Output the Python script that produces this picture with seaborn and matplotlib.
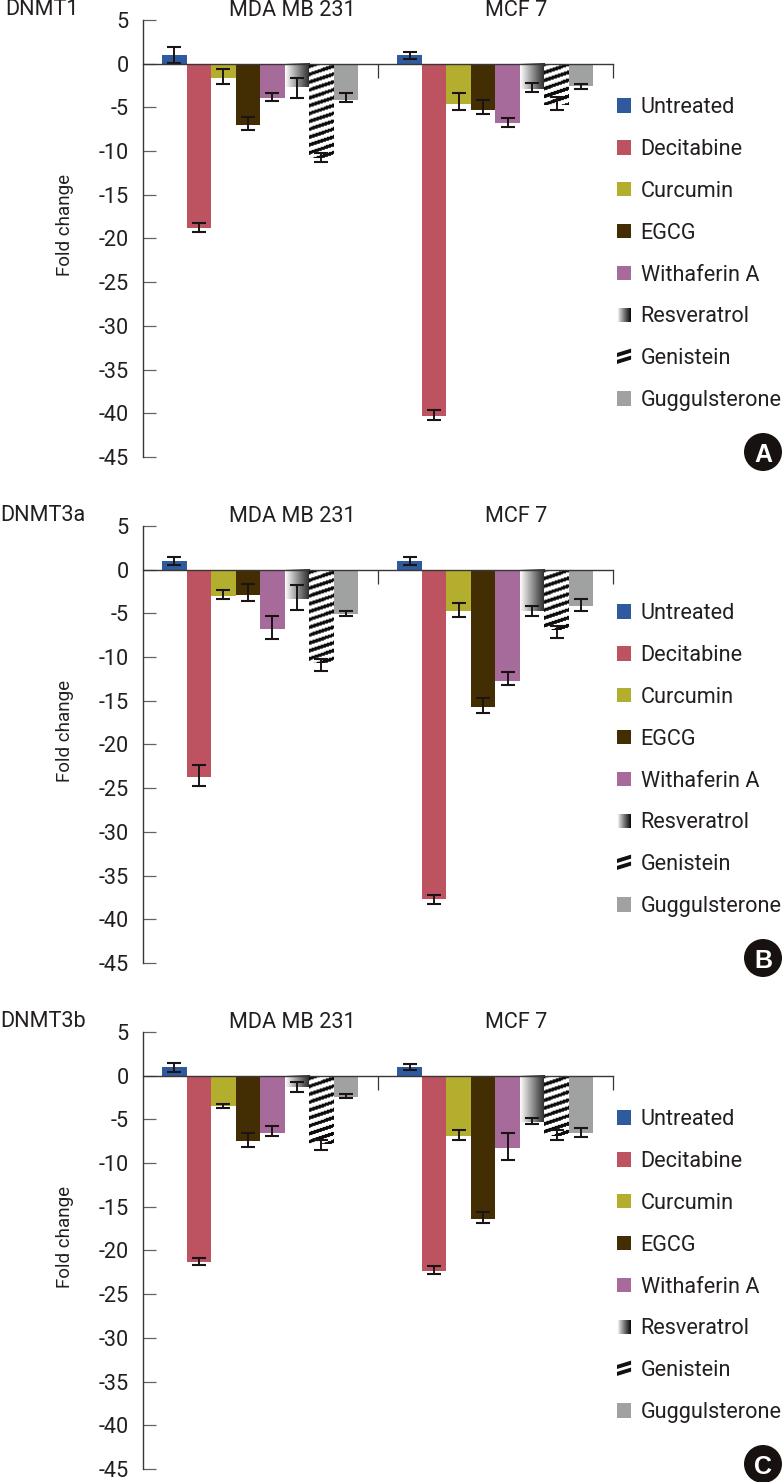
import numpy as np
import pandas as pd
import matplotlib
matplotlib.use("Agg")
import matplotlib.pyplot as plt
from matplotlib.patches import Rectangle, Polygon, Ellipse
from matplotlib.legend_handler import HandlerBase
import seaborn as sns

cells = ["MDA MB 231", "MCF 7"]
treatments = ["Untreated", "Decitabine", "Curcumin", "EGCG", "Withaferin A",
              "Resveratrol", "Genistein", "Guggulsterone"]
colors = ["#2f5a9e", "#bd5261", "#b3ae2e", "#432e04", "#a76b9b",
          "#ffffff", "#ffffff", "#a0a1a1"]
yticks = [5, 0, -5, -10, -15, -20, -25, -30, -35, -40, -45]
INK = "#231f20"

dnmt1_mda = [1.0, -18.8, -1.6, -7.0, -3.9, -2.7, -10.8, -4.1]
dnmt1_mda_top = [1.9, -18.2, -0.6, -6.1, -3.4, -1.6, -10.2, -3.3]
dnmt1_mda_low = [0.1, -19.3, -2.3, -7.6, -4.3, -3.9, -11.3, -4.4]
dnmt1_mcf = [1.0, -40.3, -4.6, -5.3, -6.8, -2.9, -4.7, -2.5]
dnmt1_mcf_top = [1.3, -39.6, -3.4, -4.2, -6.2, -2.2, -3.8, -2.3]
dnmt1_mcf_low = [0.5, -40.8, -5.3, -5.7, -7.2, -3.2, -5.3, -2.9]

dnmt3a_mda = [1.0, -23.7, -3.0, -2.9, -6.8, -3.4, -10.7, -5.1]
dnmt3a_mda_top = [1.4, -22.4, -2.3, -1.6, -5.3, -1.7, -10.2, -4.7]
dnmt3a_mda_low = [0.5, -24.7, -3.4, -3.6, -7.9, -4.6, -11.6, -5.3]
dnmt3a_mcf = [1.0, -37.7, -4.7, -15.7, -12.7, -4.7, -6.9, -4.1]
dnmt3a_mcf_top = [1.4, -37.2, -3.8, -14.7, -11.7, -4.1, -6.4, -3.4]
dnmt3a_mcf_low = [0.5, -38.2, -5.4, -16.4, -13.2, -5.3, -7.8, -4.7]

dnmt3b_mda = [1.0, -21.3, -3.5, -7.5, -6.5, -1.3, -7.8, -2.4]
dnmt3b_mda_top = [1.5, -20.9, -3.2, -6.5, -5.8, -0.7, -7.3, -2.1]
dnmt3b_mda_low = [0.4, -21.7, -3.7, -8.2, -6.9, -1.9, -8.5, -2.6]
dnmt3b_mcf = [1.0, -22.3, -6.9, -16.4, -8.3, -5.3, -6.9, -6.5]
dnmt3b_mcf_top = [1.3, -21.8, -6.2, -15.6, -6.5, -4.8, -6.2, -6.0]
dnmt3b_mcf_low = [0.6, -22.7, -7.4, -16.9, -9.6, -5.5, -7.4, -7.0]

panels = [
    ("DNMT1", "A", 20, 5, dnmt1_mda, dnmt1_mda_top, dnmt1_mda_low, dnmt1_mcf, dnmt1_mcf_top, dnmt1_mcf_low),
    ("DNMT3a", "B", 526, 0, dnmt3a_mda, dnmt3a_mda_top, dnmt3a_mda_low, dnmt3a_mcf, dnmt3a_mcf_top, dnmt3a_mcf_low),
    ("DNMT3b", "C", 1032, 0, dnmt3b_mda, dnmt3b_mda_top, dnmt3b_mda_low, dnmt3b_mcf, dnmt3b_mcf_top, dnmt3b_mcf_low),
]

sns.set_style("white")
plt.rcParams["font.family"] = ["Roboto", "Liberation Sans", "DejaVu Sans"]
plt.rcParams["axes.unicode_minus"] = False
plt.rcParams["text.color"] = INK

W, H = 782, 1482
FS = 15.6
fig = plt.figure(figsize=(W / 100, H / 100), dpi=100, facecolor="white")
AX_W, AX_H = 470.5, 437
LABEL_SHIFT = [32, 21]


class GradientHandler(HandlerBase):
    def create_artists(self, legend, orig, xd, yd, width, height, fontsize, trans):
        n = 14
        out = []
        for i in range(n):
            g = 1 - (i / (n - 1)) ** 0.9 * 0.95
            out.append(Rectangle((xd * -1 + i * width / n, -yd), width / n + 0.2, height,
                                 fc=str(g), ec="none", transform=trans))
        return out


class StripeHandler(HandlerBase):
    def create_artists(self, legend, orig, xd, yd, width, height, fontsize, trans):
        x0, y0 = -xd, -yd
        out = []
        for f in (0.0, 0.48):
            pts = [(x0, y0 + f * height), (x0 + width, y0 + (f + 0.3) * height),
                   (x0 + width, y0 + (f + 0.58) * height), (x0, y0 + (f + 0.28) * height)]
            out.append(Polygon(pts, closed=True, fc="#111111", ec="none", transform=trans))
        return out


def stripes():
    yy, xx = np.mgrid[0:int(AX_H), 0:int(AX_W)]
    phase = (yy + 0.34 * xx) % 7.8
    return np.where(phase < 3.6, 0.05, 1.0)


for name, letter, top, name_x, v1, t1, l1, v2, t2, l2 in panels:
    ax = fig.add_axes([142.5 / W, 1 - (top + AX_H) / H, AX_W / W, AX_H / H])
    df = pd.DataFrame({
        "cell": [cells[0]] * 8 + [cells[1]] * 8,
        "treatment": treatments * 2,
        "value": list(v1) + list(v2),
    })
    sns.barplot(data=df, x="cell", y="value", hue="treatment", order=cells,
                hue_order=treatments, palette=colors, saturation=1, width=0.834,
                errorbar=None, legend=False, ax=ax, linewidth=0, zorder=2)
    ax.set_xlim(-0.5, 1.5)
    ax.set_ylim(-45, 5)

    tops = [t1, t2]
    lows = [l1, l2]
    grad = np.linspace(1, 0.15, 256).reshape(1, -1)
    stripe_img = stripes()
    for h, cont in enumerate(list(ax.containers)):
        for g, bar in enumerate(cont):
            if treatments[h] == "Resveratrol":
                x0, w = bar.get_x(), bar.get_width()
                y0, hh = bar.get_y(), bar.get_height()
                ax.imshow(grad, extent=[x0, x0 + w, y0 + hh, y0], aspect="auto",
                          cmap="gray", vmin=0, vmax=1, zorder=2.1)
            elif treatments[h] == "Genistein":
                im = ax.imshow(stripe_img, extent=[-0.5, 1.5, -45, 5], aspect="auto",
                               cmap="gray", vmin=0, vmax=1, zorder=2.1, origin="upper",
                               interpolation="bilinear")
                im.set_clip_path(bar)
            hi, lo = tops[g][h], lows[g][h]
            ax.errorbar(bar.get_x() + bar.get_width() / 2, (hi + lo) / 2,
                        yerr=(hi - lo) / 2, fmt="none", ecolor="#1a1416",
                        elinewidth=1.4, capsize=4.8, capthick=1.5, zorder=4)
    ax.set_xlim(-0.5, 1.5)
    ax.set_ylim(-45, 5)

    sns.despine(ax=ax, top=True, right=True)
    ax.spines["bottom"].set_position(("data", 0))
    ax.spines["bottom"].set_color("#3a3536")
    ax.spines["bottom"].set_linewidth(1.0)
    ax.spines["bottom"].set_zorder(5)
    ax.spines["left"].set_color("#3a3536")
    ax.spines["left"].set_linewidth(1.0)

    ax.set_yticks(yticks)
    ax.set_yticklabels([str(t) for t in yticks], fontsize=FS, color=INK)
    ax.tick_params(axis="y", direction="in", length=9.5, width=0.9, color="#666263",
                   left=True, pad=10)
    ax.set_xticks([0.5, 1.5])
    ax.set_xticklabels(["", ""])
    ax.tick_params(axis="x", direction="out", length=10, width=0.9, color="#3a3536", bottom=True)
    ax.set_xlabel("")
    ax.set_ylabel("Fold change", fontsize=13.5, color=INK)
    ax.yaxis.set_label_coords(-69 / AX_W, 1 - 205 / AX_H)

    for i, c in enumerate(cells):
        ax.annotate(c, xy=(i, 1), xycoords=ax.get_xaxis_transform(),
                    xytext=(LABEL_SHIFT[i] * 0.72, 6.8), textcoords="offset points",
                    ha="center", va="center", fontsize=FS, color=INK)
    fig.text(name_x / W, 1 - (top - 10.5) / H, name, ha="left", va="center", fontsize=FS, color=INK)

    handles = [Rectangle((0, 0), 1, 1, fc=c, ec="none") for c in colors]
    hmap = {handles[5]: GradientHandler(), handles[6]: StripeHandler()}
    leg = fig.legend(handles, treatments, handler_map=hmap, loc="upper left",
                     bbox_to_anchor=(617 / W, 1 - (top + 77) / H), bbox_transform=fig.transFigure,
                     frameon=False, fontsize=FS, borderpad=0, borderaxespad=0,
                     handlelength=0.65, handleheight=0.65, handletextpad=0.44,
                     labelspacing=0.964, labelcolor=INK)

    cy = 1 - (top + 432) / H
    fig.add_artist(Ellipse((763 / W, cy), 38 / W, 38 / H, fc="#17120f", ec="none",
                           transform=fig.transFigure))
    fig.text(763 / W, cy, letter, ha="center", va="center_baseline", color="white",
             fontsize=18, fontweight="bold", family="Liberation Sans")

fig.savefig("out.png", dpi=100, facecolor="white")
